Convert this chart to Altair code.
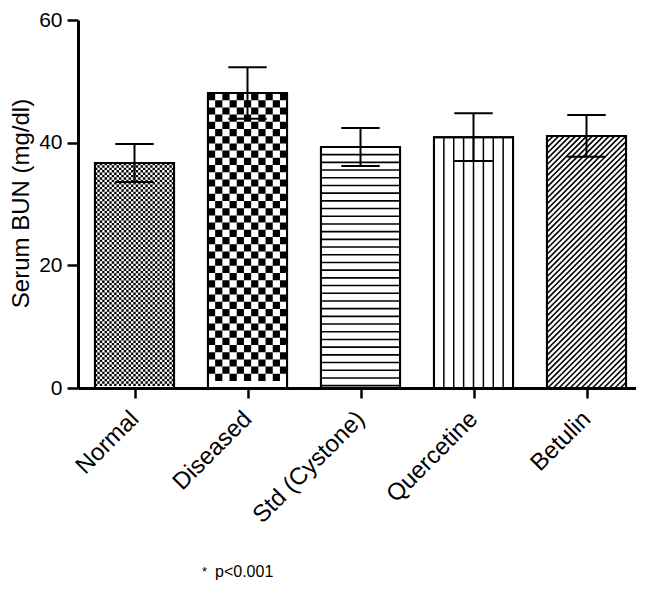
import json
import altair as alt
import pandas as pd

# ---- data ----
groups = ["Normal", "Diseased", "Std (Cystone)", "Quercetine", "Betulin"]
means = [36.7, 48.1, 39.3, 40.9, 41.1]
sems = [3.1, 4.2, 3.1, 3.9, 3.4]
y_ticks = [0, 20, 40, 60]
y_title = "Serum BUN (mg/dl)"
footnote = "p<0.001"
footnote_mark = "*"

df = pd.DataFrame({"group": groups, "idx": list(range(len(groups))),
                   "mean": means, "sem": sems})

# ---- layout constants ----
W_PLOT = 556
H_PLOT = 368
TOP = 12
X_RANGE = 565          # pixel length of the 5 category slots
N = len(groups)
KX = X_RANGE / N       # px per x unit
KY = H_PLOT / 60.0     # px per y unit
BAR_W = 0.7 * KX
FONT = "Liberation Sans"

xs = alt.Scale(domain=[0, N], range=[0, X_RANGE], nice=False, zero=False)
ys = alt.Scale(domain=[0, 60], nice=False)

label_expr = f"{json.dumps(groups)}[floor(datum.value)]"

x_axis = alt.Axis(values=[i + 0.5 for i in range(N)], labelExpr=label_expr,
                  title=None, grid=False, labelAngle=-45, labelAlign="right",
                  labelBaseline="middle", labelFontSize=24, labelFont=FONT,
                  labelPadding=17, labelFlush=False, labelOverlap=False,
                  tickSize=10, tickWidth=2.5, domainWidth=3,
                  domainColor="black", tickColor="black", labelColor="black")
y_axis = alt.Axis(values=y_ticks, title=y_title, grid=False,
                  labelFontSize=21, labelFont=FONT, labelPadding=5,
                  labelFlush=False, tickSize=11, tickWidth=2.5, domainWidth=3,
                  domainColor="black", tickColor="black", labelColor="black",
                  titleFont=FONT, titleFontSize=24, titleFontWeight="normal",
                  titleColor="black", titleX=-57, titleY=183,
                  titleBaseline="middle", titleAlign="center")


def X(f):
    return alt.X(f, scale=xs, axis=x_axis)


def Y(f):
    return alt.Y(f, scale=ys, axis=y_axis)


base = alt.Chart(df).transform_calculate(
    x0="datum.idx + 0.15", x1="datum.idx + 0.85", xc="datum.idx + 0.5",
    lo="datum.mean - datum.sem", hi="datum.mean + datum.sem",
    cl="datum.idx + 0.5 - 0.17", cr="datum.idx + 0.5 + 0.17",
)


def checker(name, c, parity):
    # rows laid from the bar top downwards; partial row left at the base
    return (base.transform_filter(alt.datum.group == name)
            .transform_calculate(rows=f"sequence(0, floor(datum.mean * {KY} / {c}))")
            .transform_flatten(["rows"])
            .transform_filter(f"datum.rows % 2 == {parity}")
            .transform_calculate(yr=f"datum.mean - (datum.rows + 0.5) * {c} / {KY}")
            .mark_rule(color="black", strokeWidth=c, strokeDash=[c, c],
                       strokeDashOffset=c * parity, strokeCap="butt")
            .encode(x=X("x0:Q"), x2="x1:Q", y=Y("yr:Q")))


layers = []
# bar outlines first so the axes come from here
layers.append(
    base.mark_rect(filled=False, color="black", strokeWidth=2)
    .encode(x=X("x0:Q"), x2="x1:Q", y=Y("mean:Q"), y2=alt.datum(0))
)
# Normal: fine checker; Diseased: coarse checker
for p in (0, 1):
    layers.append(checker(groups[0], 2.4, p))
for p in (0, 1):
    layers.append(checker(groups[1], 7.2, p))

# Std: horizontal lines
S_H = 7.7
layers.append(
    base.transform_filter(alt.datum.group == groups[2])
    .transform_calculate(k=f"sequence(1, ceil(datum.mean * {KY} / {S_H}))")
    .transform_flatten(["k"])
    .transform_calculate(yl=f"datum.mean - datum.k * {S_H} / {KY}")
    .mark_rule(color="black", strokeWidth=1.6)
    .encode(x=X("x0:Q"), x2="x1:Q", y=Y("yl:Q"))
)

# Quercetine: vertical lines
layers.append(
    base.transform_filter(alt.datum.group == groups[3])
    .transform_calculate(k="sequence(1, 8)")
    .transform_flatten(["k"])
    .transform_calculate(xv="datum.x0 + datum.k * 0.7 / 8")
    .mark_rule(color="black", strokeWidth=1.5)
    .encode(x=X("xv:Q"), y=Y("mean:Q"), y2=alt.datum(0))
)

# Betulin: diagonal hatching
S_D = 5.6
layers.append(
    base.transform_filter(alt.datum.group == groups[4])
    .transform_calculate(k=f"sequence(0, ceil(({BAR_W} + datum.mean * {KY}) / {S_D}) + 1)")
    .transform_flatten(["k"])
    .transform_calculate(c=f"-{BAR_W} + datum.k * {S_D}", H=f"datum.mean * {KY}")
    .transform_calculate(Xs="max(0, -datum.c)", Xe=f"min({BAR_W}, datum.H - datum.c)")
    .transform_filter("datum.Xe > datum.Xs + 0.5")
    .transform_calculate(
        xa=f"datum.x0 + datum.Xs / {KX}", xb=f"datum.x0 + datum.Xe / {KX}",
        ya=f"(datum.Xs + datum.c) / {KY}", yb=f"(datum.Xe + datum.c) / {KY}")
    .mark_rule(color="black", strokeWidth=1.6)
    .encode(x=X("xa:Q"), x2="xb:Q", y=Y("ya:Q"), y2="yb:Q")
)

# outlines again on top of patterns
layers.append(
    base.mark_rect(filled=False, color="black", strokeWidth=2)
    .encode(x=X("x0:Q"), x2="x1:Q", y=Y("mean:Q"), y2=alt.datum(0))
)

# error bars
layers.append(
    base.mark_rule(color="black", strokeWidth=2)
    .encode(x=X("xc:Q"), y=Y("lo:Q"), y2="hi:Q")
)
for fld in ("hi", "lo"):
    layers.append(
        base.mark_rule(color="black", strokeWidth=2)
        .encode(x=X("cl:Q"), x2="cr:Q", y=Y(f"{fld}:Q"))
    )

# footnote
note_df = pd.DataFrame({"t": [footnote], "s": [footnote_mark]})
layers.append(
    alt.Chart(note_df).mark_text(align="left", baseline="alphabetic",
                                 fontSize=16, font=FONT, color="black")
    .encode(text="t:N", x=alt.value(137), y=alt.value(557))
)
layers.append(
    alt.Chart(note_df).mark_text(align="left", baseline="alphabetic",
                                 fontSize=13, font=FONT, color="black")
    .encode(text="s:N", x=alt.value(124), y=alt.value(556))
)

chart = alt.layer(*layers).properties(
    width=W_PLOT, height=H_PLOT,
    autosize=alt.AutoSizeParams(type="none"),
    padding={"left": 70, "top": TOP, "right": 2, "bottom": 192},
    background="white",
).configure_view(stroke=None)

chart.save("out.html", embed_options={"renderer": "svg", "actions": False})
